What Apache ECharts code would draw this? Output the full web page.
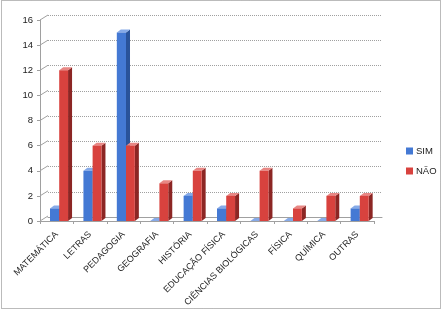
<!DOCTYPE html>
<html><head><meta charset="utf-8">
<script src="https://cdn.jsdelivr.net/npm/echarts@6/dist/echarts.min.js"></script>
<style>html,body{margin:0;padding:0;background:#fff}#c{width:444px;height:310px}</style>
</head><body><div id="c"></div>
<script>
var categories = ['MATEMÁTICA','LETRAS','PEDAGOGIA','GEOGRAFIA','HISTÓRIA','EDUCAÇÃO FÍSICA','CIÊNCIAS BIOLÓGICAS','FÍSICA','QUÍMICA','OUTRAS'];
var simValues = [1,4,15,0,2,1,0,0,0,1];
var naoValues = [12,6,6,3,4,2,4,1,2,2];
var yTicks = [0,2,4,6,8,10,12,14,16];

var chart = echarts.init(document.getElementById('c'));
var DX = 4, DY = -3;
function bar3d(offL, offR, cols){
  return function(params, api){
    var idx = api.value(0), v = api.value(1);
    var b = api.coord([idx, 0]), t = api.coord([idx, v]);
    var bw = api.size([1,0])[0];
    var x0 = b[0] + bw*offL, x1 = b[0] + bw*offR;
    var y0 = b[1], y1 = t[1];
    return {type:'group', children:[
      {type:'polygon', shape:{points:[[x1,y0],[x1+DX,y0+DY],[x1+DX,y1+DY],[x1,y1]]}, style:{fill:cols[1]}},
      {type:'polygon', shape:{points:[[x0,y1],[x0+DX,y1+DY],[x1+DX,y1+DY],[x1,y1]]}, style:{fill:cols[2]}},
      {type:'rect', shape:{x:x0,y:y1,width:x1-x0,height:Math.max(y0-y1,0)}, style:{fill:cols[0]}}
    ]};
  };
}
function wallLines(params, api){
  var v = api.value(0);
  var p = api.coord([0, v]);
  var bw = api.size([1,0])[0];
  var xl = p[0] - bw/2;
  return {type:'line', shape:{x1:xl, y1:p[1], x2:xl+8, y2:p[1]-5}, style:{stroke:'#a0a0a0', lineWidth:1}};
}
var FF = 'Liberation Sans, Arial, sans-serif';
chart.setOption({
  animation:false,
  backgroundColor:'#fff',
  graphic:[{type:'rect', shape:{x:1.5,y:0.5,width:439,height:308}, style:{fill:null, stroke:'#777', lineWidth:1, lineDash:[1,1]}, silent:true}],
  legend:{orient:'vertical', left:401, top:141, itemWidth:7, itemHeight:7, itemGap:10, icon:'rect',
    textStyle:{fontSize:9.5, fontFamily:FF, color:'#222', padding:[0,0,0,-2]},
    data:['SIM','NÃO']},
  grid:[
    {left:48, right:62, top:15, bottom:93},
    {left:40, right:70, top:20, bottom:89}
  ],
  xAxis:[
    {gridIndex:0, type:'category', data:categories, axisLine:{show:true, lineStyle:{color:'#a0a0a0'}}, axisTick:{show:false}, axisLabel:{show:false}},
    {gridIndex:1, type:'category', data:categories, axisLine:{show:true, lineStyle:{color:'#a0a0a0'}},
      axisTick:{show:true, length:3, lineStyle:{color:'#a0a0a0'}},
      axisLabel:{rotate:45, fontSize:9, margin:12, interval:0, fontFamily:FF, color:'#222'}}
  ],
  yAxis:[
    {gridIndex:0, type:'value', min:0, max:16, interval:2, axisLabel:{show:false}, axisLine:{show:false}, axisTick:{show:false},
      splitLine:{show:true, lineStyle:{color:'#a0a0a0', width:1, type:[1,1]}}},
    {gridIndex:1, type:'value', min:0, max:16, interval:2, splitLine:{show:false},
      axisLine:{show:true, lineStyle:{color:'#a0a0a0'}}, axisTick:{show:true, length:3, lineStyle:{color:'#a0a0a0'}},
      axisLabel:{fontSize:9.5, margin:7, fontFamily:FF, color:'#222'}}
  ],
  series:[
    {name:'walls', type:'custom', xAxisIndex:1, yAxisIndex:1, renderItem:wallLines, data:yTicks.map(function(v){return [v];}), encode:{y:0}, silent:true, z:1},
    {name:'SIM', type:'custom', xAxisIndex:1, yAxisIndex:1, itemStyle:{color:'#4479D4'},
      renderItem:bar3d(-0.2, 0.075, ['#4479D4','#2A539A','#86AAE8']),
      data:simValues.map(function(v,i){return [i,v];}), encode:{x:0,y:1}, z:3},
    {name:'NÃO', type:'custom', xAxisIndex:1, yAxisIndex:1, itemStyle:{color:'#D8423E'},
      renderItem:bar3d(0.075, 0.34, ['#D8423E','#8C2624','#E88784']),
      data:naoValues.map(function(v,i){return [i,v];}), encode:{x:0,y:1}, z:3}
  ]
});
</script></body></html>
